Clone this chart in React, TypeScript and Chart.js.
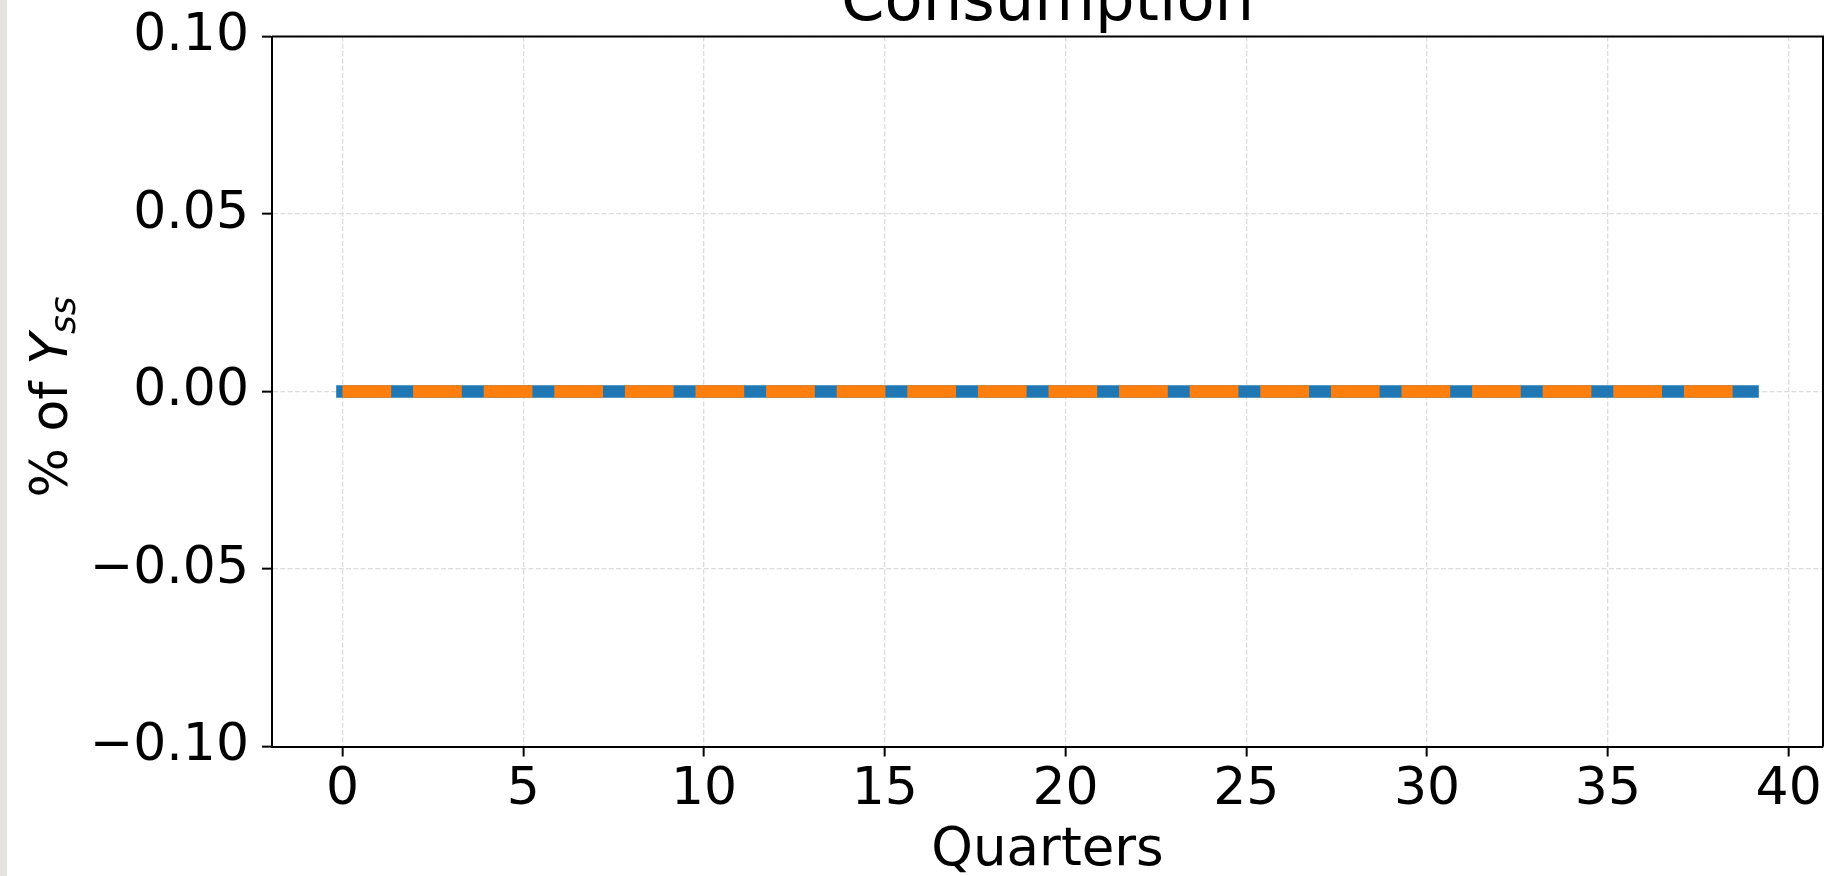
import React, { useEffect, useRef } from "react";
import { Chart, registerables } from "chart.js";

Chart.register(...registerables);

// ---- data ----
const quarters = [
  0, 1, 2, 3, 4, 5, 6, 7, 8, 9, 10, 11, 12, 13, 14, 15, 16, 17, 18, 19,
  20, 21, 22, 23, 24, 25, 26, 27, 28, 29, 30, 31, 32, 33, 34, 35, 36, 37, 38, 39,
];
const seriesBlue = [
  0, 0, 0, 0, 0, 0, 0, 0, 0, 0, 0, 0, 0, 0, 0, 0, 0, 0, 0, 0,
  0, 0, 0, 0, 0, 0, 0, 0, 0, 0, 0, 0, 0, 0, 0, 0, 0, 0, 0, 0,
];
const seriesOrange = [
  0, 0, 0, 0, 0, 0, 0, 0, 0, 0, 0, 0, 0, 0, 0, 0, 0, 0, 0, 0,
  0, 0, 0, 0, 0, 0, 0, 0, 0, 0, 0, 0, 0, 0, 0, 0, 0, 0, 0, 0,
];
const xTicks = [0, 5, 10, 15, 20, 25, 30, 35, 40];
const yTicks = [-0.1, -0.05, 0, 0.05, 0.1];
const titleText = "Consumption";
const xLabelText = "Quarters";
const yLabelMain = "% of ";
const yLabelVar = "Y";
const yLabelSub = "ss";

const FONT = "'DejaVu Sans', sans-serif";

const fmtY = (v: number) => {
  const s = Math.abs(v).toFixed(2);
  return v < -1e-9 ? "\u2212" + s : s;
};

const framePlugin = {
  id: "frame",
  beforeDraw(chart: any) {
    const ctx = chart.ctx;
    ctx.save();
    ctx.fillStyle = "#ffffff";
    ctx.fillRect(0, 0, chart.width, chart.height);
    ctx.fillStyle = "#e6e4e1";
    ctx.fillRect(0, 0, 7, chart.height);
    ctx.restore();
  },
  afterDraw(chart: any) {
    const ctx = chart.ctx;
    const a = chart.chartArea;
    ctx.save();
    // top & right spines
    ctx.strokeStyle = "#000000";
    ctx.lineWidth = 2;
    ctx.setLineDash([]);
    ctx.beginPath();
    ctx.moveTo(a.left, a.top);
    ctx.lineTo(a.right, a.top);
    ctx.lineTo(a.right, a.bottom);
    ctx.stroke();

    const cx = (a.left + a.right) / 2;
    ctx.fillStyle = "#000000";
    // title
    ctx.font = `62.4px ${FONT}`;
    ctx.textAlign = "center";
    ctx.textBaseline = "alphabetic";
    ctx.fillText(titleText, cx, 20);
    // x label
    ctx.font = `53px ${FONT}`;
    ctx.fillText(xLabelText, cx, 865);

    // y label (rotated, with subscript)
    const mainFont = `52px ${FONT}`;
    const varFont = `italic 52px ${FONT}`;
    const subFont = `italic 36px ${FONT}`;
    ctx.font = mainFont;
    const w1 = ctx.measureText(yLabelMain).width;
    ctx.font = varFont;
    const w2 = ctx.measureText(yLabelVar).width;
    ctx.font = subFont;
    const w3 = ctx.measureText(yLabelSub).width;
    const total = w1 + w2 + w3;
    const cy = (a.top + a.bottom) / 2 + 5;
    ctx.translate(66.5, cy);
    ctx.rotate(-Math.PI / 2);
    ctx.textAlign = "left";
    let x0 = -total / 2;
    ctx.font = mainFont;
    ctx.fillText(yLabelMain, x0, 0);
    x0 += w1;
    ctx.font = varFont;
    ctx.fillText(yLabelVar, x0, 0);
    x0 += w2 - 1;
    ctx.font = subFont;
    ctx.fillText(yLabelSub, x0, 8);
    ctx.restore();
  },
};

export default function App() {
  const ref = useRef<HTMLCanvasElement | null>(null);

  useEffect(() => {
    if (!ref.current) return;
    const gridCommon = {
      color: "#dcdcdc",
      lineWidth: 1.3,
      drawTicks: true,
      tickLength: 10,
      tickColor: "#000000",
      tickWidth: 2,
      tickBorderDash: [],
    };
    const borderCommon = { display: true, color: "#000000", width: 2, dash: [5, 2.3] };
    const chart = new Chart(ref.current, {
      type: "line",
      data: {
        datasets: [
          {
            label: "orange",
            data: quarters.map((q, i) => ({ x: q, y: seriesOrange[i] })),
            borderColor: "#ff7f0e",
            borderWidth: 12.6,
            borderDash: [48.7, 21.9],
            borderCapStyle: "butt",
            pointRadius: 0,
            fill: false,
            tension: 0,
            order: 0,
          },
          {
            label: "blue",
            data: quarters.map((q, i) => ({ x: q, y: seriesBlue[i] })),
            borderColor: "#1f77b4",
            borderWidth: 12.6,
            borderCapStyle: "square",
            pointRadius: 0,
            fill: false,
            tension: 0,
            order: 1,
          },
        ],
      },
      options: {
        animation: false,
        responsive: false,
        devicePixelRatio: 1,
        layout: { padding: { top: 36.5, right: 7, bottom: 0, left: 0 } },
        plugins: {
          legend: { display: false },
          tooltip: { enabled: false },
          title: { display: false },
        },
        scales: {
          x: {
            type: "linear",
            min: -1.95,
            max: 40.95,
            afterBuildTicks: (s: any) => {
              s.ticks = xTicks.map((v) => ({ value: v }));
            },
            afterFit: (s: any) => {
              s.height = 129.5;
              s.paddingLeft = 0;
              s.paddingRight = 0;
            },
            grid: gridCommon,
            border: borderCommon,
            ticks: {
              color: "#000000",
              font: { family: FONT, size: 52 },
              padding: 3,
              maxRotation: 0,
              autoSkip: false,
            },
          },
          y: {
            type: "linear",
            min: -0.1,
            max: 0.1,
            afterBuildTicks: (s: any) => {
              s.ticks = yTicks.map((v) => ({ value: v }));
            },
            afterFit: (s: any) => {
              s.width = 272;
              s.paddingTop = 0;
              s.paddingBottom = 0;
            },
            grid: gridCommon,
            border: borderCommon,
            ticks: {
              color: "#000000",
              font: { family: FONT, size: 52 },
              padding: 13,
              autoSkip: false,
              callback: (v: any) => fmtY(Number(v)),
            },
          },
        },
      },
      plugins: [framePlugin],
    } as any);
    return () => chart.destroy();
  }, []);

  return (
    <div style={{ position: "fixed", left: 0, top: 0, width: 1830, height: 876 }}>
      <canvas ref={ref} width={1830} height={876} style={{ width: 1830, height: 876, display: "block" }} />
    </div>
  );
}
